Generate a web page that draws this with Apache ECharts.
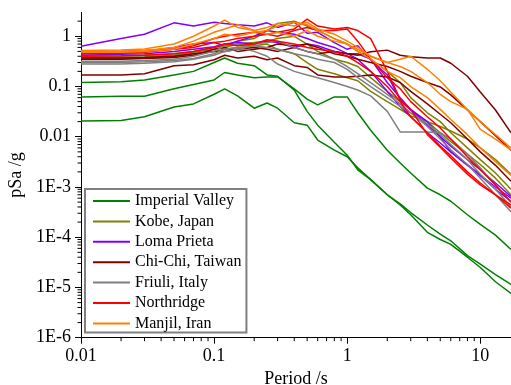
<!DOCTYPE html>
<html><head><meta charset="utf-8">
<script src="https://cdn.jsdelivr.net/npm/echarts@6/dist/echarts.min.js"></script>
<style>html,body{margin:0;padding:0;background:#fff}#c{width:511px;height:385px}</style>
</head><body><div id="c"></div>
<script>
// Periods (s) at which spectra are sampled
const PERIODS = [0.01,0.02,0.03,0.05,0.07,0.1,0.12,0.15,0.2,0.25,0.3,0.4,0.5,0.6,0.8,1,1.2,1.5,2,2.5,3,4,5,6,8,10,13,17];

// Imperial Valley
const IV1 = [0.12,0.125,0.135,0.17,0.2,0.3,0.37,0.29,0.26,0.17,0.16,0.085,0.032,0.017,0.0078,0.0043,0.0022,0.0014,7e-4,4.6e-4,3.1e-4,1.75e-4,1.15e-4,8.5e-5,4.3e-5,2.9e-5,1.8e-5,1.15e-5];
const IV2 = [0.062,0.064,0.064,0.09,0.11,0.135,0.19,0.17,0.15,0.155,0.155,0.09,0.056,0.043,0.062,0.062,0.03,0.0135,0.0054,0.003,0.0019,9.5e-4,7e-4,5.2e-4,2.8e-4,1.8e-4,1.1e-4,5.7e-5];
const IV3 = [0.0205,0.021,0.025,0.039,0.045,0.07,0.09,0.065,0.037,0.047,0.037,0.019,0.017,0.0086,0.0054,0.004,0.0024,0.0014,7e-4,4.4e-4,2.8e-4,1.25e-4,9e-5,7.2e-5,4e-5,2.5e-5,1.3e-5,7.6e-6];
// Kobe, Japan
const KB1 = [0.4,0.4,0.42,0.45,0.5,0.6,0.65,0.8,0.9,1.3,1.8,2.0,1.6,1.3,0.9,0.7,0.5,0.35,0.2,0.12,0.06,0.03,0.02,0.012,0.006,0.0035,0.0019,9e-4];
const KB2 = [0.38,0.38,0.39,0.42,0.48,0.55,0.6,0.7,0.75,0.8,0.9,1.0,0.7,0.5,0.35,0.3,0.25,0.15,0.08,0.05,0.035,0.02,0.012,0.008,0.0045,0.0028,0.0015,7e-4];
const KB3 = [0.36,0.36,0.37,0.4,0.45,0.5,0.55,0.6,0.65,0.7,0.55,0.45,0.3,0.22,0.18,0.15,0.13,0.08,0.05,0.035,0.026,0.02,0.016,0.013,0.009,0.006,0.0035,0.0018];
// Loma Prieta
const LP1 = [0.63,0.9,1.1,1.85,1.6,1.9,1.8,1.7,1.6,1.85,1.5,1.9,1.15,1.2,0.75,0.55,0.65,0.34,0.17,0.054,0.034,0.02,0.01,0.005,0.0028,0.0017,0.001,6e-4];
const LP2 = [0.45,0.47,0.5,0.6,0.7,0.75,0.65,0.8,1.0,1.3,1.2,1.1,0.9,0.75,0.6,0.45,0.35,0.2,0.08,0.04,0.025,0.012,0.0075,0.005,0.0027,0.0017,9e-4,5.2e-4];
const LP3 = [0.42,0.44,0.45,0.5,0.55,0.62,0.7,0.75,0.7,0.8,0.75,0.6,0.7,0.65,0.5,0.45,0.45,0.35,0.12,0.06,0.035,0.017,0.01,0.0065,0.0035,0.0022,0.0012,6.5e-4];
// Chi-Chi, Taiwan
const CC1 = [0.17,0.17,0.18,0.26,0.27,0.34,0.42,0.37,0.4,0.34,0.37,0.26,0.24,0.17,0.155,0.155,0.16,0.17,0.155,0.12,0.08,0.045,0.028,0.019,0.009,0.005,0.0027,0.0013];
const CC2 = [0.37,0.37,0.38,0.4,0.45,0.5,0.5,0.55,0.6,0.55,0.5,0.6,0.5,0.45,0.5,0.45,0.42,0.49,0.53,0.42,0.39,0.37,0.37,0.29,0.16,0.078,0.034,0.012];
const CC3 = [0.35,0.35,0.36,0.38,0.42,0.55,0.6,0.5,0.55,0.6,0.7,0.65,0.7,0.6,0.45,0.4,0.35,0.3,0.25,0.2,0.16,0.12,0.098,0.068,0.034,0.02,0.0105,0.0054];
// Friuli, Italy
const FR1 = [0.3,0.3,0.31,0.33,0.36,0.45,0.55,0.6,0.5,0.4,0.28,0.2,0.17,0.15,0.12,0.1,0.085,0.065,0.032,0.0125,0.0125,0.0125,0.012,0.009,0.0045,0.0024,0.0011,5e-4];
const FR2 = [0.32,0.32,0.33,0.35,0.4,0.5,0.65,0.7,0.65,0.6,0.55,0.45,0.4,0.35,0.3,0.22,0.15,0.1,0.06,0.04,0.03,0.018,0.011,0.007,0.0035,0.0018,9e-4,4e-4];
const FR3 = [0.28,0.28,0.29,0.31,0.35,0.42,0.5,0.55,0.7,0.75,0.8,0.6,0.5,0.45,0.35,0.25,0.18,0.12,0.07,0.045,0.03,0.016,0.009,0.0055,0.0028,0.0015,7e-4,3.2e-4];
// Northridge
const NR1 = [0.45,0.46,0.48,0.55,0.6,0.75,0.8,0.9,1.0,1.1,1.2,1.4,2.2,1.6,1.4,1.5,1.3,0.9,0.2,0.055,0.035,0.011,0.0062,0.0038,0.0018,0.0011,7e-4,4.4e-4];
const NR2 = [0.5,0.5,0.52,0.55,0.65,0.9,1.0,1.1,1.2,1.1,1.0,1.3,1.5,1.3,1.3,1.4,0.8,0.35,0.15,0.09,0.05,0.025,0.015,0.009,0.004,0.0022,0.0011,5e-4];
const NR3 = [0.4,0.41,0.42,0.45,0.5,0.6,0.7,0.65,0.7,0.85,0.8,0.7,0.6,0.55,0.5,0.4,0.3,0.2,0.1,0.05,0.025,0.012,0.0065,0.0042,0.002,0.0012,7e-4,3.8e-4];
// Manjil, Iran
const MJ1 = [0.52,0.53,0.56,0.7,1.0,1.6,2.1,1.5,1.3,1.1,1.2,1.0,1.3,1.0,0.8,0.7,0.55,0.4,0.3,0.35,0.4,0.22,0.13,0.078,0.035,0.02,0.011,0.006];
const MJ2 = [0.5,0.5,0.52,0.6,0.8,1.2,1.4,1.7,1.3,1.5,1.8,1.6,1.9,1.4,1.1,0.8,0.6,0.4,0.3,0.25,0.2,0.12,0.07,0.05,0.035,0.014,0.009,0.0055];
const MJ3 = [0.48,0.48,0.5,0.55,0.7,0.9,1.1,1.0,1.2,1.3,1.6,1.9,1.7,1.3,0.9,0.7,0.5,0.35,0.2,0.15,0.1,0.06,0.035,0.022,0.011,0.006,0.0032,0.0017];

const NAMES = ['Imperial Valley','Kobe, Japan','Loma Prieta','Chi-Chi, Taiwan','Friuli, Italy','Northridge','Manjil, Iran'];
const COLORS = ['#008000','#808000','#8000ff','#800000','#808080','#ff0000','#ff8000'];
const CURVES = [[IV1,IV2,IV3],[KB1,KB2,KB3],[LP1,LP2,LP3],[CC1,CC2,CC3],[FR1,FR2,FR3],[NR1,NR2,NR3],[MJ1,MJ2,MJ3]];

const X_TICKS = [0.01,0.1,1,10];
const X_TICK_LABELS = ['0.01','0.1','1','10'];
const Y_TICKS = [1e-6,1e-5,1e-4,1e-3,0.01,0.1,1];
const Y_TICK_LABELS = ['1E-6','1E-5','1E-4','1E-3','0.01','0.1','1'];
const X_MIN = 0.01, X_MAX = 17, Y_MIN = 1e-6, Y_MAX = 3;

function labelFor(ticks, labels){
  return function(v){
    for (let i=0;i<ticks.length;i++){
      if (Math.abs(Math.log10(v)-Math.log10(ticks[i]))<1e-6) return labels[i];
    }
    return '';
  };
}
// minor tick values (2..9 x 10^k) within range
function minors(lo, hi){
  const out=[];
  for (let k=Math.floor(Math.log10(lo)); k<=Math.ceil(Math.log10(hi)); k++){
    for (let m=2;m<=9;m++){ const v=m*Math.pow(10,k); if (v>lo*1.0001 && v<hi*0.9999) out.push(v); }
  }
  return out;
}

const FONT = 'Liberation Serif';
const series = [];
CURVES.forEach((group, gi) => {
  group.forEach(vals => {
    series.push({
      name: NAMES[gi], type: 'line', symbol: 'none', showSymbol: false,
      data: PERIODS.map((p, i) => [p, vals[i]]),
      lineStyle: { width: 1.5, color: COLORS[gi] },
      itemStyle: { color: COLORS[gi] },
      emphasis: { disabled: true }, animation: false
    });
  });
});
series.push({
  type: 'custom', silent: true, clip: false, z: 10, animation: false,
  data: minors(X_MIN, X_MAX).map(v => [v, Y_MIN]),
  renderItem: (params, api) => {
    const p = api.coord([api.value(0), api.value(1)]);
    return { type: 'line', shape: { x1: p[0], y1: p[1], x2: p[0], y2: p[1] + 3.5 }, style: { stroke: '#000', lineWidth: 1 } };
  }
});
series.push({
  type: 'custom', silent: true, clip: false, z: 10, animation: false,
  data: minors(Y_MIN, Y_MAX).map(v => [X_MIN, v]),
  renderItem: (params, api) => {
    const p = api.coord([api.value(0), api.value(1)]);
    return { type: 'line', shape: { x1: p[0], y1: p[1], x2: p[0] - 3.5, y2: p[1] }, style: { stroke: '#000', lineWidth: 1 } };
  }
});

const chart = echarts.init(document.getElementById('c'), null, { renderer: 'canvas' });
chart.setOption({
  animation: false,
  backgroundColor: '#fff',
  grid: { left: 81, right: 0, top: 12.3, bottom: 47.3, containLabel: false, outerBoundsMode: 'none' },
  xAxis: {
    type: 'log', min: X_MIN, max: X_MAX, logBase: 10, interval: 1,
    name: 'Period /s', nameLocation: 'middle', nameGap: 24,
    nameTextStyle: { fontFamily: FONT, fontSize: 18, color: '#000' },
    axisLine: { show: true, lineStyle: { color: '#000', width: 1 } },
    axisTick: { show: true, inside: false, length: 6, lineStyle: { color: '#000' } },
    axisLabel: { fontFamily: FONT, fontSize: 18, color: '#000', margin: 10, formatter: labelFor(X_TICKS, X_TICK_LABELS), showMaxLabel: false },
    splitLine: { show: false }, minorTick: { show: false }
  },
  yAxis: {
    type: 'log', min: Y_MIN, max: Y_MAX, logBase: 10, interval: 1,
    name: 'pSa /g', nameLocation: 'middle', nameGap: 52, nameRotate: 90,
    nameTextStyle: { fontFamily: FONT, fontSize: 18, color: '#000' },
    axisLine: { show: true, lineStyle: { color: '#000', width: 1 } },
    axisTick: { show: true, inside: false, length: 6, lineStyle: { color: '#000' } },
    axisLabel: { fontFamily: FONT, fontSize: 18, color: '#000', margin: 10, formatter: labelFor(Y_TICKS, Y_TICK_LABELS), showMaxLabel: false },
    splitLine: { show: false }, minorTick: { show: false }
  },
  legend: {
    data: NAMES, orient: 'vertical', left: 85, top: 189,
    icon: 'rect', itemWidth: 37, itemHeight: 2, itemGap: 2.4,
    padding: [3, 5, 0, 8],
    borderColor: '#808080', borderWidth: 2, backgroundColor: '#fff',
    textStyle: { fontFamily: FONT, fontSize: 16, color: '#000', lineHeight: 18 },
    selectedMode: false
  },
  series: series
});
</script></body></html>
